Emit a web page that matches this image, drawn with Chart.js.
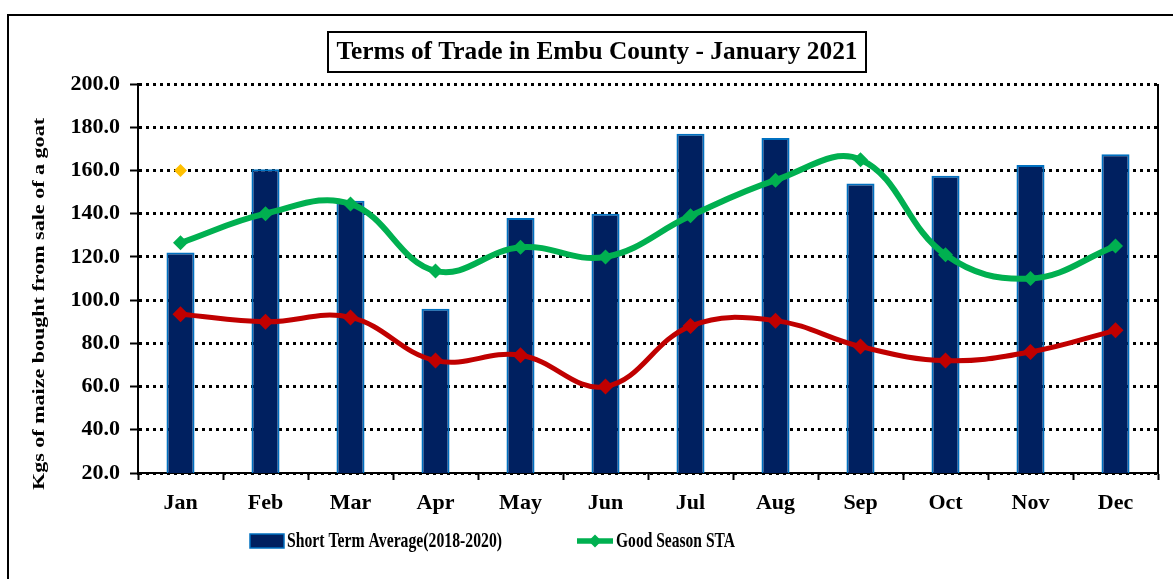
<!DOCTYPE html>
<html>
<head>
<meta charset="utf-8">
<title>Terms of Trade in Embu County</title>
<script src="https://cdn.jsdelivr.net/npm/chart.js@4"></script>
<style>
  html, body { margin: 0; padding: 0; background: #fff; }
  #wrap { width: 1173px; height: 579px; position: relative; }
</style>
</head>
<body>
<div id="wrap"><canvas id="tot" width="1173" height="579"></canvas></div>
<script>
// Monthly terms of trade (kg of maize per goat)
const months = ["Jan", "Feb", "Mar", "Apr", "May", "Jun", "Jul", "Aug", "Sep", "Oct", "Nov", "Dec"];
const shortTermAvg = [122, 160.5, 146, 96, 138, 140, 177, 175, 154, 157.5, 162.5, 167.5];
const goodSeasonSTA = [126.5, 140, 144.5, 113.5, 124.5, 120, 139, 155.5, 165, 121, 110, 125];
const currentYear = [93.5, 90, 92, 72, 74.5, 60, 88, 90.5, 78.5, 72, 76, 86];
const latestMonth = [160, null, null, null, null, null, null, null, null, null, null, null];
const yTicks = { min: 20, max: 200, step: 20 };

const SERIF = "'Liberation Serif', 'Times New Roman', serif";

// draw text stretched/condensed to an exact width
function fitText(ctx, text, x, y, width) {
  const w = ctx.measureText(text).width;
  ctx.save();
  ctx.translate(x, y);
  ctx.scale(width / w, 1);
  ctx.fillText(text, 0, 0);
  ctx.restore();
}

// Title box, y axis title, outer frame, right edge of plot and the legend
const decorations = {
  id: "decorations",
  afterDraw(chart) {
    const ctx = chart.ctx;
    const area = chart.chartArea;
    ctx.save();

    // outer frame (only top and left are visible)
    ctx.strokeStyle = "#000";
    ctx.lineWidth = 2;
    ctx.beginPath();
    ctx.moveTo(8, 579);
    ctx.lineTo(8, 15);
    ctx.lineTo(1173, 15);
    ctx.stroke();

    // right edge of plot area
    ctx.beginPath();
    ctx.moveTo(area.right, area.top);
    ctx.lineTo(area.right, area.bottom);
    ctx.stroke();

    // boxed title
    ctx.lineWidth = 2;
    ctx.strokeRect(328, 32, 538, 40);
    ctx.fillStyle = "#000";
    ctx.font = "bold 26px " + SERIF;
    ctx.textAlign = "center";
    ctx.textBaseline = "middle";
    fitText(ctx, "Terms of Trade in Embu County - January 2021", 597, 52, 521);

    // y axis title
    ctx.save();
    ctx.translate(40, 304);
    ctx.rotate(-Math.PI / 2);
    ctx.font = "bold 17px " + SERIF;
    fitText(ctx, "Kgs of maize bought from sale of a goat", 0, 0, 372);
    ctx.restore();

    // legend: bar swatch + line swatch
    const bar = chart.data.datasets[2];
    const line = chart.data.datasets[0];
    const ly = 541;
    ctx.fillStyle = bar.backgroundColor;
    ctx.fillRect(250, 534, 34, 14);
    ctx.strokeStyle = bar.borderColor;
    ctx.lineWidth = 1.5;
    ctx.strokeRect(250, 534, 34, 14);
    ctx.fillStyle = "#000";
    ctx.font = "bold 21px " + SERIF;
    ctx.textAlign = "left";
    fitText(ctx, bar.label, 287, ly + 1, 215);

    ctx.strokeStyle = line.borderColor;
    ctx.lineWidth = 5.5;
    ctx.beginPath();
    ctx.moveTo(577, ly);
    ctx.lineTo(613, ly);
    ctx.stroke();
    ctx.fillStyle = line.borderColor;
    ctx.beginPath();
    ctx.moveTo(595, ly - 6.5);
    ctx.lineTo(601.5, ly);
    ctx.lineTo(595, ly + 6.5);
    ctx.lineTo(588.5, ly);
    ctx.closePath();
    ctx.fill();
    ctx.fillStyle = "#000";
    fitText(ctx, line.label, 616, ly + 1, 119);

    ctx.restore();
  }
};

new Chart(document.getElementById("tot"), {
  data: {
    labels: months,
    datasets: [
      {
        type: "line",
        label: "Good Season STA",
        data: goodSeasonSTA,
        borderColor: "#00B050",
        backgroundColor: "#00B050",
        borderWidth: 6,
        tension: 0.4,
        pointStyle: "rectRot",
        pointRadius: 7.5,
        pointBorderWidth: 0,
        order: 1
      },
      {
        type: "line",
        label: "January 2021",
        data: currentYear,
        borderColor: "#C00000",
        backgroundColor: "#C00000",
        borderWidth: 5,
        tension: 0.4,
        pointStyle: "rectRot",
        pointRadius: 8,
        pointBorderWidth: 0,
        order: 1
      },
      {
        type: "bar",
        label: "Short Term Average(2018-2020)",
        data: shortTermAvg,
        backgroundColor: "#002060",
        borderColor: "#0070C0",
        borderWidth: 2,
        barPercentage: 0.33,
        categoryPercentage: 1,
        order: 3
      },
      {
        type: "line",
        label: "Jan 2021",
        data: latestMonth,
        showLine: false,
        pointStyle: "rectRot",
        pointRadius: 6.5,
        pointBorderWidth: 0,
        backgroundColor: "#FFC000",
        borderColor: "#FFC000",
        order: 0
      }
    ]
  },
  options: {
    responsive: false,
    animation: false,
    layout: { padding: { left: 20, right: 15, top: 84, bottom: 56 } },
    plugins: {
      legend: { display: false },
      title: { display: false },
      tooltip: { enabled: false }
    },
    scales: {
      x: {
        afterFit(scale) { scale.height = 50; },
        grid: {
          offset: true,
          drawOnChartArea: false,
          drawTicks: true,
          tickLength: 7,
          tickColor: "#000",
          tickWidth: 2
        },
        border: { color: "#000", width: 2 },
        ticks: {
          color: "#000",
          padding: 10,
          font: { family: SERIF, size: 22, weight: "bold" }
        }
      },
      y: {
        min: yTicks.min,
        max: yTicks.max,
        afterFit(scale) { scale.width = 118; },
        grid: {
          color: "#000",
          lineWidth: 3,
          drawTicks: true,
          tickLength: 8,
          tickColor: "#000",
          tickWidth: 2,
          tickBorderDash: []
        },
        border: { color: "#000", width: 2, dash: [3, 4] },
        ticks: {
          stepSize: yTicks.step,
          color: "#000",
          padding: 10,
          font: { family: SERIF, size: 22, weight: "bold" },
          callback: (v) => v.toFixed(1)
        }
      }
    }
  },
  plugins: [decorations]
});
</script>
</body>
</html>
